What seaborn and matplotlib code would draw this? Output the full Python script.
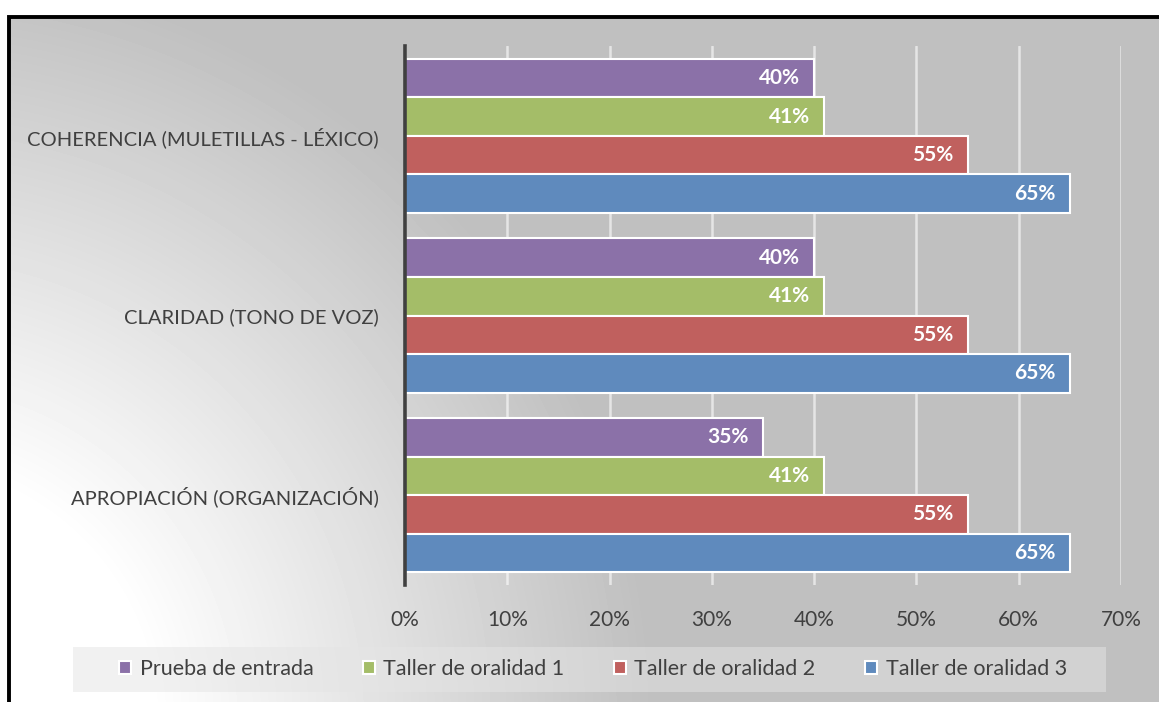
import numpy as np
import pandas as pd
import matplotlib
matplotlib.use('Agg')
import matplotlib.pyplot as plt
from matplotlib.patches import Rectangle
from matplotlib.ticker import FuncFormatter
import seaborn as sns

# data
categorias = ['COHERENCIA (MULETILLAS - LÉXICO)', 'CLARIDAD (TONO DE VOZ)', 'APROPIACIÓN (ORGANIZACIÓN)']
series = ['Prueba de entrada', 'Taller de oralidad 1', 'Taller de oralidad 2', 'Taller de oralidad 3']
prueba_entrada = [40, 40, 35]
taller_1 = [41, 41, 41]
taller_2 = [55, 55, 55]
taller_3 = [65, 65, 65]

colores = ['#8B71A8', '#A4BD68', '#C0605E', '#5F8ABD']
texto = '#404040'

valores = [prueba_entrada, taller_1, taller_2, taller_3]
df = pd.DataFrame({
    'categoria': [c for s in series for c in categorias],
    'serie': [s for s in series for c in categorias],
    'valor': [v for vals in valores for v in vals],
})

W, H = 1159, 702
sns.set_style('white')
plt.rcParams['font.family'] = ['Lato', 'DejaVu Sans']

fig = plt.figure(figsize=(W / 100, H / 100), dpi=100)

# gradient background (light at bottom-left, grey towards top-right)
ax_bg = fig.add_axes([0, 0, 1, 1], zorder=-10)
yy, xx = np.mgrid[0:H, 0:W]
d = np.hypot(xx + 100, yy - 720)
t = np.clip((d - 250) / 500, 0, 1)
g = 1.0 - t * (63 / 255)
g[(yy < 16) | (xx < 8)] = 1.0
ax_bg.imshow(g, cmap='gray', vmin=0, vmax=1, aspect='auto', interpolation='bilinear')
ax_bg.axis('off')

# frame
fig.patches.append(Rectangle((8.5 / W, -0.05), 1.2, 1 - 16.5 / H + 0.05, transform=fig.transFigure,
                             fill=False, edgecolor='black', linewidth=2.8, zorder=5))

# legend box
fig.patches.append(Rectangle((73 / W, 1 - 692 / H), (1106 - 73) / W, 45 / H, transform=fig.transFigure,
                             facecolor='#E5E5E5', alpha=0.5, edgecolor='none', zorder=1))

ax = fig.add_axes([405 / W, 1 - 585 / H, (1121 - 405) / W, (585 - 46) / H])
ax.set_facecolor('none')

sns.barplot(data=df, y='categoria', x='valor', hue='serie', orient='h', order=categorias,
            hue_order=series, palette=colores, width=0.86, edgecolor='white', linewidth=1.5,
            saturation=1, ax=ax, zorder=3)

for cont, vals in zip(ax.containers, valores):
    for bar, v in zip(cont, vals):
        ax.annotate(f'{v}%', (bar.get_width(), bar.get_y() + bar.get_height() / 2),
                    xytext=(-10, 0), textcoords='offset points', ha='right', va='center',
                    color='white', fontsize=15, fontweight='bold', zorder=4)

ax.set_xlim(0, 70)
ax.set_xticks(range(0, 71, 10))
ax.xaxis.set_major_formatter(FuncFormatter(lambda x, p: f'{x:.0f}%'))
ax.grid(axis='x', color='white', alpha=0.6, linewidth=1.8, zorder=0)
ax.set_axisbelow(True)
ax.set_xlabel('')
ax.set_ylabel('')
for s in ['top', 'right', 'bottom']:
    ax.spines[s].set_visible(False)
ax.spines['left'].set_color(texto)
ax.spines['left'].set_linewidth(2.6)
ax.spines['left'].set_zorder(5)
ax.tick_params(axis='both', length=0, labelcolor=texto)
ax.tick_params(axis='y', pad=19, labelsize=14.5)
ax.tick_params(axis='x', pad=18, labelsize=15)

handles, labels = ax.get_legend_handles_labels()
ax.get_legend().remove()
fig.legend(handles, labels, loc='center', bbox_to_anchor=(593 / W, 1 - 669 / H), ncol=4,
           frameon=False, fontsize=15.5, handlelength=0.55, handleheight=0.55, handletextpad=0.4,
           columnspacing=2.3, labelcolor=texto)

fig.savefig('out.png', dpi=100)
